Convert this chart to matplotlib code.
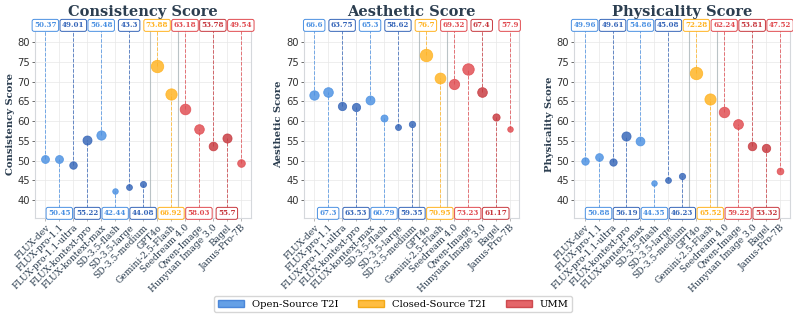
import numpy as np
import matplotlib
matplotlib.use("Agg")
import matplotlib.pyplot as plt
from matplotlib.patches import Patch

models = ["FLUX-dev", "FLUX-pro-1.1", "FLUX-pro-1.1-ultra", "FLUX-kontext-pro",
          "FLUX-kontext-max", "SD-3.5-flash", "SD-3.5-large", "SD-3.5-medium",
          "GPT4o", "Gemini-2.5-Flash", "Seedream 4.0", "Qwen-Image",
          "Hunyuan Image 3.0", "Bagel", "Janus-Pro-7B"]
groups = ["open"] * 8 + ["closed"] * 2 + ["umm"] * 5

consistency = [50.37, 50.45, 49.01, 55.22, 56.48, 42.44, 43.3, 44.08,
               73.88, 66.92, 63.18, 58.03, 53.78, 55.7, 49.54]
aesthetic = [66.6, 67.3, 63.75, 63.53, 65.3, 60.79, 58.62, 59.35,
             76.7, 70.95, 69.32, 73.23, 67.4, 61.17, 57.9]
physicality = [49.96, 50.88, 49.61, 56.19, 54.86, 44.35, 45.08, 46.23,
               72.28, 65.52, 62.24, 59.22, 53.81, 53.32, 47.52]

panels = [("Consistency Score", consistency),
          ("Aesthetic Score", aesthetic),
          ("Physicality Score", physicality)]

# shades alternate in pairs inside each group
shade = {"open": ["#4a90e2", "#4a90e2", "#3565b8", "#3565b8",
                  "#4a90e2", "#4a90e2", "#3565b8", "#3565b8"],
         "closed": ["#ffb21f", "#ffb21f"],
         "umm": ["#e04a4f", "#e04a4f", "#c7383e", "#c7383e", "#e04a4f"]}
colors = shade["open"] + shade["closed"] + shade["umm"]

serif = "DejaVu Serif"
navy = "#2c3e50"

fig = plt.figure(figsize=(7.93, 3.17), dpi=100)
lefts = [0.044, 0.383, 0.724]
x = np.arange(len(models))

for left, (title, vals) in zip(lefts, panels):
    ax = fig.add_axes([left, 0.312, 0.272, 0.593])
    vals = np.array(vals)
    sizes = 16 + (vals - vals.min()) / (vals.max() - vals.min()) * 64

    ax.set_xlim(-0.75, 14.7)
    ax.set_ylim(35.5, 83)

    for sep in (7.5, 9.5):
        ax.axvline(sep, color="#a9b4b8", lw=0.8, alpha=0.8, zorder=1)

    for i in x:
        c = colors[i]
        if i % 2 == 0:
            ax.plot([i, i], [vals[i], 84], ls="--", lw=0.7, color=c, alpha=0.75,
                    clip_on=False, zorder=2)
            ly = 84.2
        else:
            ax.plot([i, i], [36.7, vals[i]], ls="--", lw=0.7, color=c, alpha=0.75,
                    zorder=2)
            ly = 36.7
        ax.scatter(i, vals[i], s=sizes[i], color=c, alpha=0.82,
                   edgecolor=c, linewidth=0.6, zorder=3)
        ax.text(i, ly, f"{vals[i]:g}", ha="center", va="center", fontsize=5.1,
                fontweight="bold", family=serif, color=c, clip_on=False, zorder=4,
                bbox=dict(boxstyle="round,pad=0.28", fc="white", ec=c, lw=0.7))

    ax.set_yticks(range(40, 81, 5))
    ax.set_xticks(x)
    ax.set_xticklabels(models, rotation=45, ha="right", rotation_mode="anchor",
                       fontsize=6.6, family=serif, color=navy)
    ax.tick_params(axis="y", labelsize=7.2, length=2, width=0.5, colors="#333333", pad=1.5)
    ax.tick_params(axis="x", length=2, width=0.5, colors="#999999", pad=1.5)
    for lab in ax.get_xticklabels():
        lab.set_color(navy)
    ax.grid(True, color="#e8e8e8", lw=0.5, zorder=0)
    ax.set_axisbelow(True)
    for side in ("left", "bottom", "right"):
        ax.spines[side].set_color("#d5d8dc")
        ax.spines[side].set_linewidth(0.8)
    ax.spines["top"].set_visible(False)

    ax.set_ylabel(title, fontsize=7.2, fontweight="bold", family=serif,
                  color=navy, labelpad=2)
    ax.set_title(title, fontsize=10.5, fontweight="bold", family=serif,
                 color=navy, pad=10)

handles = [Patch(facecolor="#4a90e2", edgecolor="#3a7bd5", alpha=0.85, label="Open-Source T2I"),
           Patch(facecolor="#ffb21f", edgecolor="#f0a000", alpha=0.85, label="Closed-Source T2I"),
           Patch(facecolor="#e04a4f", edgecolor="#c7383e", alpha=0.85, label="UMM")]
fig.legend(handles=handles, loc="center", bbox_to_anchor=(0.496, 0.04), ncol=3,
           prop={"family": serif, "size": 7.2}, frameon=True, edgecolor="#cccccc",
           handlelength=2.6, handleheight=0.7, columnspacing=2.0, borderpad=0.35)

fig.savefig("out.png", dpi=100)
